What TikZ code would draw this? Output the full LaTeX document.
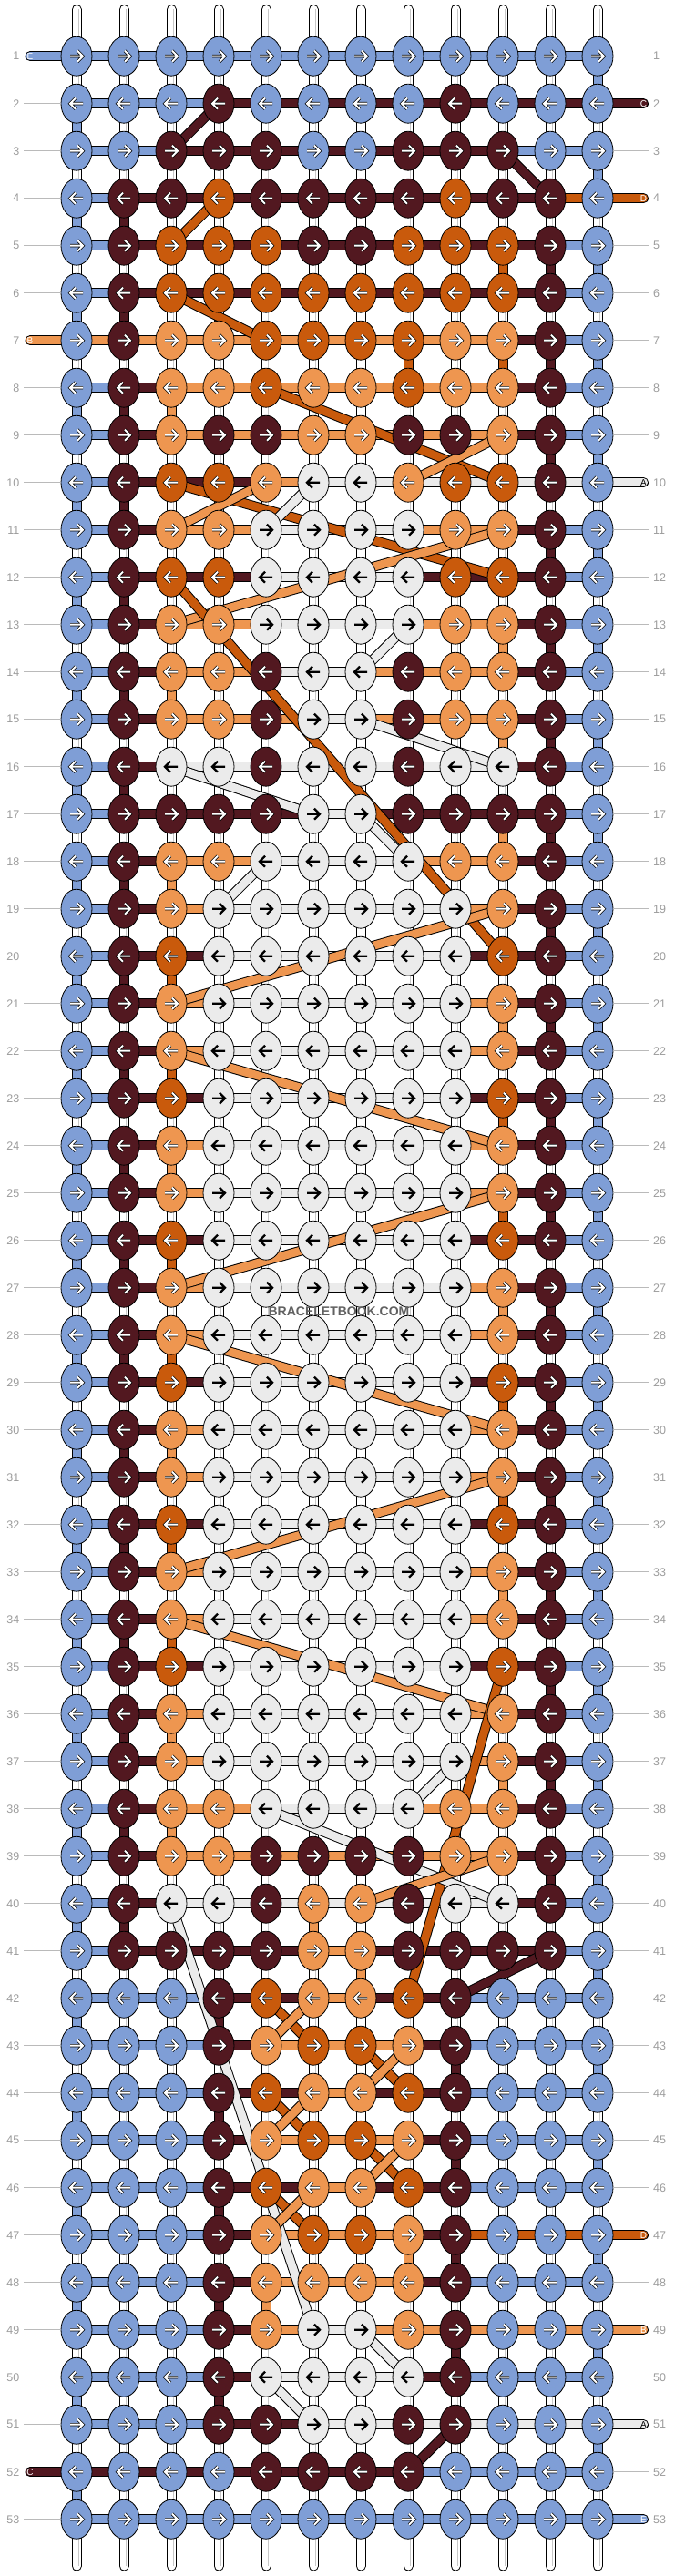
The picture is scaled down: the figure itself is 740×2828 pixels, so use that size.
\documentclass[tikz,border=0pt]{standalone}
\usepackage{fontspec}
\setmainfont{Liberation Sans}
\usepackage{tikz}
\usetikzlibrary{shapes.geometric,positioning}

% string colours
\definecolor{strA}{HTML}{EBEBEB}
\definecolor{strB}{HTML}{EE9650}
\definecolor{strC}{HTML}{521820}
\definecolor{strD}{HTML}{C95A0C}
\definecolor{strE}{HTML}{7F9ED6}
\definecolor{rowgray}{HTML}{9C9C9C}
\colorlet{tagA}{black}
\colorlet{tagB}{white}
\colorlet{tagC}{white}
\colorlet{tagD}{white}
\colorlet{tagE}{white}

\pgfdeclarelayer{warp}
\pgfdeclarelayer{thread}
\pgfsetlayers{warp,thread,main}

% one row: number, knot colours, colours between knots
\newcommand{\knotrow}[3]{%
  \pgfmathtruncatemacro{\dir}{1-2*mod(#1+1,2)}%
  \foreach \kc [count=\j] in {#2} {
    \node[knot, fill=str\kc] (k-#1-\j) at ({32+52*\j},{9.7+52*#1}) {};
    \draw[arr\kc] (k-#1-\j.center) ++({7*\dir},0) -- ++({-14*\dir},0)
      (k-#1-\j.center) ++({1*\dir},-6) -- ++({6*\dir},6) -- ++({-6*\dir},6);
  }
  \begin{pgfonlayer}{thread}
    \foreach \sc [count=\j] in {#3} {
      \pgfmathtruncatemacro{\jn}{\j+1}
      \draw[thread=\sc] (k-#1-\j.center) -- (k-#1-\jn.center);
    }
  \end{pgfonlayer}
}
\newcommand{\lightrow}[1]{\knotrow{#1}{E,C,B,A,A,A,A,A,A,B,C,E}{E,C,B,A,A,A,A,A,B,C,E}}
\newcommand{\darkrow}[1]{\knotrow{#1}{E,C,D,A,A,A,A,A,A,D,C,E}{E,C,C,A,A,A,A,A,C,C,E}}

\begin{document}
\begin{tikzpicture}[
    x=1pt, y=-1pt,
    knot/.style={
        ellipse,
        draw=black,
        line width=0.8pt,
        minimum width=34pt,
        minimum height=43pt,
        inner sep=0pt
    },
    thread/.style={
        draw=str#1,
        line width=9pt,
        preaction={draw=black, line width=11pt}
    },
    tail/.style={
        draw=str#1,
        line width=9pt,
        line cap=round,
        preaction={draw=black, line width=11pt, line cap=round}
    },
    warpline/.style={
        draw=white,
        line width=9pt,
        line cap=round,
        preaction={draw=black, line width=11pt, line cap=round}
    },
    warpshade/.style={draw=black!22, line width=1pt},
    arrA/.style={draw=black, line width=2.2pt},
    arrW/.style={draw=white, line width=2pt, preaction={draw=black, line width=3.4pt}},
    arrB/.style={arrW}, arrC/.style={arrW}, arrD/.style={arrW}, arrE/.style={arrW},
    rownum/.style={font=\fontsize{12.5}{13}\selectfont, text=rowgray, inner sep=0pt},
    rowline/.style={draw=rowgray!70, line width=1pt},
    tagtext/.style={font=\fontsize{10}{10}\selectfont, text=tag#1, inner sep=0pt},
    sitemark/.style={font=\bfseries\fontsize{14}{14}\selectfont, text=black!62, inner sep=1pt}
]
\useasboundingbox (0,0) rectangle (740,2828);

% warp strings
\foreach \j in {1,...,12} {
    \coordinate (wt-\j) at ({32+52*\j},10.5);
    \coordinate (wb-\j) at ({32+52*\j},2817);
    \begin{pgfonlayer}{warp}
        \draw[warpline] (wt-\j) -- (wb-\j);
        \draw[warpshade] ([xshift=2.5pt]wt-\j) -- ([xshift=2.5pt]wb-\j);
    \end{pgfonlayer}
}

% knots, row by row
\knotrow{1}{E,E,E,E,E,E,E,E,E,E,E,E}{E,E,E,E,E,E,E,E,E,E,E}
\knotrow{2}{E,E,E,C,E,E,E,E,C,E,E,E}{E,E,E,C,C,C,C,C,C,C,C}
\knotrow{3}{E,E,C,C,C,E,E,C,C,C,E,E}{E,E,C,C,C,C,C,C,C,E,E}
\knotrow{4}{E,C,C,D,C,C,C,C,D,C,C,E}{E,C,C,C,C,C,C,C,C,C,D}
\knotrow{5}{E,C,D,D,D,C,C,D,D,D,C,E}{E,C,C,C,C,C,C,C,C,C,E}
\knotrow{6}{E,C,D,D,D,D,D,D,D,D,C,E}{E,C,C,C,C,C,C,C,C,C,E}
\knotrow{7}{E,C,B,B,D,D,D,D,B,B,C,E}{B,B,B,B,B,B,B,B,B,C,E}
\knotrow{8}{E,C,B,B,D,B,B,D,B,B,C,E}{E,C,B,B,B,B,B,B,B,C,E}
\knotrow{9}{E,C,B,C,C,B,B,C,C,B,C,E}{E,C,B,B,B,B,B,B,B,C,E}
\knotrow{10}{E,C,D,D,B,A,A,B,D,D,C,E}{E,C,C,C,B,A,A,A,A,A,A}
\knotrow{11}{E,C,B,B,A,A,A,A,B,B,C,E}{E,C,B,B,A,A,A,B,B,C,E}
\knotrow{12}{E,C,D,D,A,A,A,A,D,D,C,E}{E,C,C,C,A,A,A,C,C,C,E}
\knotrow{13}{E,C,B,B,A,A,A,A,B,B,C,E}{E,C,B,B,A,A,A,B,B,C,E}
\knotrow{14}{E,C,B,B,C,A,A,C,B,B,C,E}{E,C,B,B,A,A,B,B,B,C,E}
\knotrow{15}{E,C,B,B,C,A,A,C,B,B,C,E}{E,C,B,B,B,A,B,B,B,C,E}
\knotrow{16}{E,C,A,A,C,A,A,C,A,A,C,E}{E,C,A,A,A,A,A,A,A,C,E}
\knotrow{17}{E,C,C,C,C,A,A,C,C,C,C,E}{E,C,C,C,C,A,C,C,C,C,E}
\knotrow{18}{E,C,B,B,A,A,A,A,B,B,C,E}{E,C,B,B,A,A,A,B,B,C,E}
\lightrow{19}
\darkrow{20}
\lightrow{21}
\lightrow{22}
\darkrow{23}
\lightrow{24}
\lightrow{25}
\darkrow{26}
\lightrow{27}
\lightrow{28}
\darkrow{29}
\lightrow{30}
\lightrow{31}
\darkrow{32}
\lightrow{33}
\lightrow{34}
\darkrow{35}
\lightrow{36}
\lightrow{37}
\knotrow{38}{E,C,B,B,A,A,A,A,B,B,C,E}{E,C,B,B,A,A,A,B,B,C,E}
\knotrow{39}{E,C,B,B,C,C,C,C,B,B,C,E}{E,C,B,B,B,B,B,B,B,C,E}
\knotrow{40}{E,C,A,A,C,B,B,C,A,A,C,E}{E,C,A,A,A,A,A,A,A,C,E}
\knotrow{41}{E,C,C,C,C,B,B,C,C,C,C,E}{E,C,C,C,C,B,C,C,C,C,E}
\knotrow{42}{E,E,E,C,D,B,B,D,C,E,E,E}{E,E,E,C,C,B,C,C,E,E,E}
\knotrow{43}{E,E,E,C,B,D,D,B,C,E,E,E}{E,E,E,C,B,B,B,C,E,E,E}
\knotrow{44}{E,E,E,C,D,B,B,D,C,E,E,E}{E,E,E,C,C,B,C,C,E,E,E}
\knotrow{45}{E,E,E,C,B,D,D,B,C,E,E,E}{E,E,E,C,B,B,B,C,E,E,E}
\knotrow{46}{E,E,E,C,D,B,B,D,C,E,E,E}{E,E,E,C,C,B,C,C,E,E,E}
\knotrow{47}{E,E,E,C,B,D,D,B,C,E,E,E}{E,E,E,C,B,B,B,C,D,D,D}
\knotrow{48}{E,E,E,C,B,B,B,B,C,E,E,E}{E,E,E,C,B,B,B,C,E,E,E}
\knotrow{49}{E,E,E,C,B,A,A,B,C,E,E,E}{E,E,E,C,B,A,B,B,B,B,B}
\knotrow{50}{E,E,E,C,A,A,A,A,C,E,E,E}{E,E,E,C,A,A,A,C,E,E,E}
\knotrow{51}{E,E,E,C,C,A,A,C,C,E,E,E}{E,E,E,C,C,A,A,A,A,A,A}
\knotrow{52}{E,E,E,E,C,C,C,C,E,E,E,E}{C,C,C,C,C,C,C,E,E,E,E}
\knotrow{53}{E,E,E,E,E,E,E,E,E,E,E,E}{E,E,E,E,E,E,E,E,E,E,E}

\begin{pgfonlayer}{thread}
    % turns at the edges
    \foreach \r in {2,4,...,52} {
        \pgfmathtruncatemacro{\rn}{\r+1}
        \draw[thread=E] (k-\r-1.center) -- (k-\rn-1.center);
    }
    \foreach \r in {1,3,...,51} {
        \pgfmathtruncatemacro{\rn}{\r+1}
        \draw[thread=E] (k-\r-12.center) -- (k-\rn-12.center);
    }
    \foreach \r in {4,6,...,40} {
        \pgfmathtruncatemacro{\rn}{\r+1}
        \draw[thread=C] (k-\r-2.center) -- (k-\rn-2.center);
    }
    \foreach \r in {5,7,...,39} {
        \pgfmathtruncatemacro{\rn}{\r+1}
        \draw[thread=C] (k-\r-11.center) -- (k-\rn-11.center);
    }
    % other vertical runs
    \foreach \r/\c/\sc in {8/3/B, 14/3/B, 18/3/B, 20/3/D, 22/3/D, 24/3/B, 26/3/D,
        28/3/D, 30/3/B, 32/3/D, 34/3/D, 36/3/B, 38/3/B,
        5/10/D, 7/10/D, 13/10/B, 15/10/B, 17/10/B, 21/10/B, 23/10/D, 25/10/D,
        27/10/B, 29/10/D, 31/10/D, 33/10/B, 37/10/B,
        7/8/D, 40/6/B, 41/7/B, 42/4/C, 43/9/C, 44/4/C, 45/9/C, 46/4/C,
        47/8/B, 47/9/C, 48/4/C, 48/5/B, 49/9/C, 50/4/C} {
        \pgfmathtruncatemacro{\rn}{\r+1}
        \draw[thread=\sc] (k-\r-\c.center) -- (k-\rn-\c.center);
    }
    % carried strings
    \foreach \ra/\ca/\rb/\cb/\sc in {2/4/3/3/C, 3/10/4/11/C, 4/4/5/3/D, 6/3/7/5/D,
        8/5/10/10/D, 9/10/10/8/B, 10/3/12/10/D, 10/5/11/3/B, 10/6/11/5/A,
        11/10/13/3/B, 12/3/20/10/D, 13/8/14/7/A, 15/7/16/10/A, 16/3/17/6/A,
        17/7/18/8/A, 18/5/19/4/A, 19/10/21/3/B, 22/3/24/10/B, 25/10/27/3/B,
        28/3/30/10/B, 31/10/33/3/B, 34/3/36/10/B, 35/10/42/8/D, 37/9/38/8/A,
        38/5/40/10/A, 39/10/40/7/B, 40/3/49/6/A, 42/9/41/11/C,
        42/5/43/6/D, 42/6/43/5/B, 43/7/44/8/D, 43/8/44/7/B,
        44/5/45/6/D, 44/6/45/5/B, 45/7/46/8/D, 45/8/46/7/B,
        46/5/47/6/D, 46/6/47/5/B, 49/7/50/8/A, 50/5/51/6/A, 51/9/52/8/C} {
        \draw[thread=\sc] (k-\ra-\ca.center) -- (k-\rb-\cb.center);
    }
\end{pgfonlayer}

% string ends with their letters
\foreach \r/\sc in {1/E, 7/B, 52/C} {
    \coordinate (tl-\r) at (33,{9.7+52*\r});
    \begin{pgfonlayer}{thread}
        \draw[tail=\sc] (tl-\r) -- (k-\r-1.center);
    \end{pgfonlayer}
    \node[tagtext=\sc] (ltag-\r) at (tl-\r) {\sc};
}
\foreach \r/\sc in {2/C, 4/D, 10/A, 47/D, 49/B, 51/A, 53/E} {
    \coordinate (tr-\r) at (706.5,{9.7+52*\r});
    \begin{pgfonlayer}{thread}
        \draw[tail=\sc] (k-\r-12.center) -- (tr-\r);
    \end{pgfonlayer}
    \node[tagtext=\sc] (rtag-\r) at (tr-\r) {\sc};
}

% row numbers
\foreach \r in {1,...,53} {
    \node[rownum, anchor=east] (nl-\r) at (21.5,{9.7+52*\r}) {\r};
    \node[rownum, anchor=west] (nr-\r) at (717,{9.7+52*\r}) {\r};
}
\foreach \r in {2,3,...,6,8,9,...,51,53}
    \draw[rowline] ([xshift=4.5pt]nl-\r.east) -- (k-\r-1.west);
\foreach \r in {1,3,5,6,7,8,9,11,12,...,46,48,50,52}
    \draw[rowline] (k-\r-12.east) -- ([xshift=-4pt]nr-\r.west);

% site mark
\node[sitemark] (site) at (372,1440) {BRACELETBOOK.COM};

\end{tikzpicture}
\end{document}
